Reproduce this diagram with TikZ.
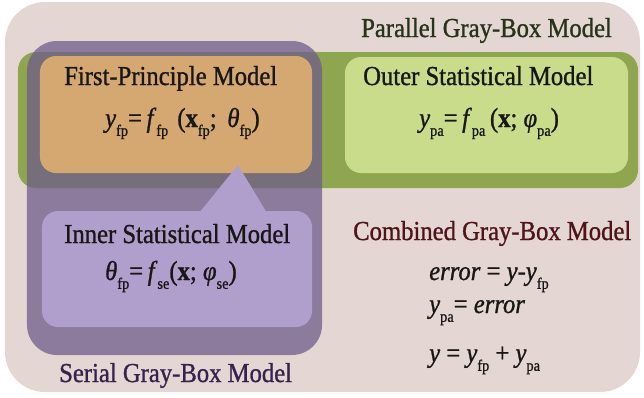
\documentclass[tikz,border=0pt]{standalone}
\usepackage{fontspec}
\setmainfont{Liberation Serif}[FakeStretch=0.9,FakeBold=1]
\definecolor{bgbeige}{RGB}{228,215,211}
\definecolor{olivegreen}{RGB}{143,166,80}
\definecolor{serialpurple}{RGB}{110,91,139}
\definecolor{fporange}{RGB}{214,168,113}
\definecolor{palegreen}{RGB}{200,220,140}
\definecolor{palepurple}{RGB}{176,158,204}
\definecolor{pgreentext}{RGB}{40,52,26}
\definecolor{combtext}{RGB}{80,20,24}
\definecolor{sertext}{RGB}{55,34,78}
\definecolor{bodytext}{RGB}{25,22,22}
\newcommand\lowsub[1]{\raisebox{-0.32em}{\fontsize{16}{16}\selectfont #1}}

\begin{document}
\begin{tikzpicture}[x=1bp,y=-1bp, every node/.style={font=\fontsize{27.5}{32}\selectfont,inner sep=0pt,text=bodytext}]
\useasboundingbox (0,0) rectangle (644,397);
\node[fill=bgbeige,rounded corners=40bp,minimum width=635bp,minimum height=390bp] (bg) at (322.5,197) {};
\node[fill=olivegreen,rounded corners=18bp,minimum width=620bp,minimum height=136bp] (par) at (328,120) {};
\node[fill=serialpurple,fill opacity=0.74,rounded corners=30bp,minimum width=295bp,minimum height=314bp] (ser) at (174.5,198) {};
\node[fill=fporange,rounded corners=16bp,minimum width=272bp,minimum height=117bp] (fp) at (176,114.5) {};
\node[fill=palegreen,rounded corners=16bp,minimum width=283bp,minimum height=116bp] (outer) at (486.5,115) {};
\node[fill=palepurple,rounded corners=16bp,minimum width=270bp,minimum height=116bp] (inner) at (177,269) {};
\fill[palepurple] (199,213) -- (238,165) -- (267,213) -- cycle;

\node[anchor=base west,text=pgreentext] (partitle) at (361,37) {Parallel Gray-Box Model};
\node[anchor=base west] (fptitle) at (64,85) {First-Principle Model};
\node[anchor=base west] (fpeq) at (105,127) {\textit{y}\lowsub{fp}=\,\textit{f}\lowsub{fp}\,\,(\textbf{x}\lowsub{fp}; \,\textit{θ}\lowsub{fp})};
\node[anchor=base west] (outertitle) at (363,85) {Outer Statistical Model};
\node[anchor=base west] (outereq) at (419,127) {\textit{y}\lowsub{pa}=\,\textit{f}\lowsub{pa}\,(\textbf{x}; \textit{φ}\lowsub{pa})};
\node[anchor=base west] (innertitle) at (64,243) {Inner Statistical Model};
\node[anchor=base west] (innereq) at (105,280) {\textit{θ}\lowsub{fp}=\,\textit{f}\lowsub{se}(\textbf{x}; \textit{φ}\lowsub{se})};
\node[anchor=base west,text=combtext] (combtitle) at (353,240) {Combined Gray-Box Model};
\node[anchor=base west] (erreq) at (429,280) {\textit{error} = \textit{y}-\textit{y}\lowsub{fp}};
\node[anchor=base west] (paeq) at (429,313) {\textit{y}\lowsub{pa}= \textit{error}};
\node[anchor=base west] (sumeq) at (429,362) {\textit{y} = \textit{y}\lowsub{fp} + \textit{y}\lowsub{pa}};
\node[anchor=base west,text=sertext] (sertitle) at (59,382) {Serial Gray-Box Model};
\end{tikzpicture}
\end{document}
